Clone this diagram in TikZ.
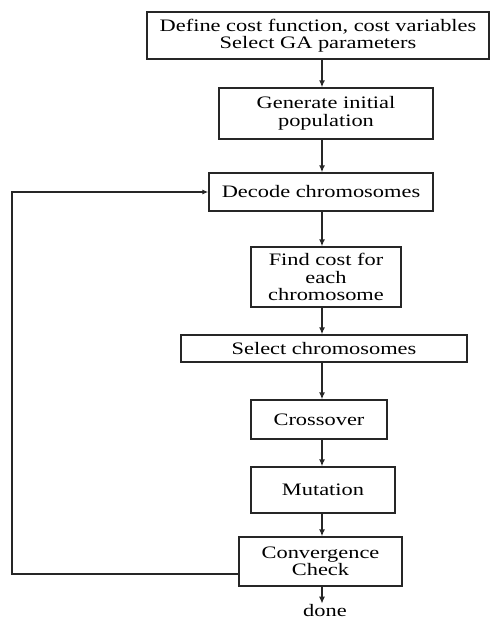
\documentclass[tikz,border=0pt]{standalone}
\usepackage{fontspec}
\setmainfont[FakeStretch=1.28]{Liberation Serif}
\usepackage{tikz}
\usetikzlibrary{arrows.meta}

\begin{document}
\begin{tikzpicture}[x=1pt,y=-1pt,
    box/.style={draw=black!85, line width=1.3pt, inner sep=0pt, align=center,
      font=\fontsize{17.5}{17.5}\selectfont},
    flow/.style={-{Latex[length=7pt,width=6pt]}, line width=1.6pt, black!85}]
  \useasboundingbox (0,0) rectangle (493,620);
  \coordinate (col) at (322,0);
  \coordinate (back) at (12,380);

  %% steps
  \node[box, minimum width=342pt, minimum height=47pt] (def) at (318,35.5)
    {Define cost function, cost variables\\Select GA parameters};
  \node[box, minimum width=214pt, minimum height=51pt] (gen) at (326,113.5)
    {Generate initial\\population};
  \node[box, minimum width=224pt, minimum height=38pt] (dec) at (321,192)
    {Decode chromosomes};
  \node[box, minimum width=150pt, minimum height=60pt] (cost) at (326,277)
    {Find cost for\\each\\chromosome};
  \node[box, minimum width=286pt, minimum height=27pt] (sel) at (324,348.5)
    {Select chromosomes};
  \node[box, minimum width=136pt, minimum height=39pt] (cross) at (319,419.5)
    {Crossover};
  \node[box, minimum width=144pt, minimum height=46pt] (mut) at (323,490)
    {Mutation};
  \node[box, minimum width=163pt, minimum height=49pt] (conv) at (320.5,561.5)
    {Convergence\\Check};
  \node[font=\fontsize{17.5}{17.5}\selectfont, inner sep=1pt] (done) at (325,611) {done};

  %% arrows
  \draw[flow] (def.south -| col) -- (gen.north -| col);
  \draw[flow] (gen.south -| col) -- (dec.north -| col);
  \draw[flow] (dec.south -| col) -- (cost.north -| col);
  \draw[flow] (cost.south -| col) -- (sel.north -| col);
  \draw[flow] (sel.south -| col) -- (cross.north -| col);
  \draw[flow] (cross.south -| col) -- (mut.north -| col);
  \draw[flow] (mut.south -| col) -- (conv.north -| col);
  \draw[flow] (conv.south -| col) -- (done.north -| col);

  %% loop back
  \draw[-{Latex[length=6pt,width=5pt]}, line width=1.2pt, black!85]
    ([yshift=-12.5pt]conv.west) -| (back) |- (dec.west);
\end{tikzpicture}
\end{document}
